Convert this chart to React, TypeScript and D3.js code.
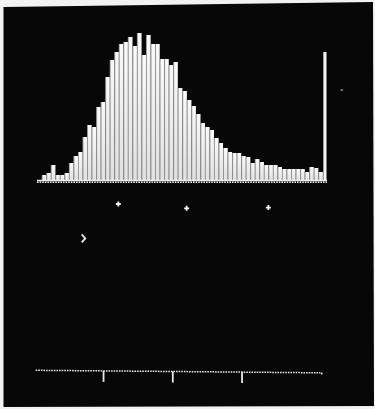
import React from "react";
import * as d3 from "d3";

// Histogram bin counts (63 bins, last one is the overflow bin)
const binCounts: number[] = [
  6, 8, 16, 6, 6, 8, 18, 25, 29, 44,
  56, 54, 74, 79, 104, 121, 129, 137, 139, 144,
  135, 148, 126, 146, 137, 137, 122, 122, 116, 119,
  93, 90, 81, 75, 67, 58, 54, 51, 43, 38,
  33, 29, 28, 28, 25, 24, 18, 22, 19, 16,
  16, 16, 14, 12, 12, 12, 12, 12, 9, 14,
  13, 9, 129,
];
const bins: number[] = binCounts.map((_, i) => i);

// Lower scale ticks
const lowerTicks: number[] = [1, 2, 3];
// Cursor markers on the lower scale (x in scale units, y in field units)
const crossX: number[] = [1.213, 2.2, 3.38];
const crossY: number[] = [0.395, 0.28, 0.3];
const chevronX: number[] = [0.71];
const chevronY: number[] = [-0.51];

const W = 375;
const H = 409;

export default function App() {
  const x = d3
    .scaleBand<number>()
    .domain(bins)
    .range([41.7, 327.3])
    .paddingInner(0);
  const y = d3.scaleLinear().domain([0, 150]).range([181, 31]);

  const x2 = d3.scaleLinear().domain([0, 4]).range([34.3, 311.3]);
  const y2 = d3.scaleLinear().domain([0, 1]).range([219, 181]);

  const step = x.bandwidth();
  const last = bins.length - 1;

  const crossPath = (cx: number, cy: number) =>
    `M${cx - 2.5},${cy}H${cx + 2.5}M${cx},${cy - 2.5}V${cy + 2.5}`;

  return (
    <svg
      width={W}
      height={H}
      style={{ position: "absolute", left: 0, top: 0, display: "block" }}
    >
      <defs>
        <linearGradient id="barg" x1="0" y1="0" x2="0" y2="1">
          <stop offset="0" stopColor="#fafafa" />
          <stop offset="1" stopColor="#e0e0e0" />
        </linearGradient>
      </defs>
      <rect x={0} y={0} width={W} height={H} fill="#f2f2f2" />
      <polygon points="3.5,7 373,2 374,406 3.5,407" fill="#070707" />

      {/* histogram bars */}
      <g>
        {binCounts.map((v, i) => {
          const bx = x(i) as number;
          const top = y(v);
          const h = y(0) - top;
          if (i === last) {
            return (
              <rect key={i} x={bx + 0.6} y={top} width={step - 1.4} height={h} fill="#f4f4f4" />
            );
          }
          return (
            <g key={i}>
              <rect x={bx} y={top} width={step} height={h} fill="#9a9a9a" />
              <rect x={bx + 1} y={top} width={step - 1} height={h} fill="url(#barg)" />
            </g>
          );
        })}
      </g>

      {/* baseline */}
      <line x1={37} x2={327} y1={y(0) - 0.5} y2={y(0) - 0.5} stroke="#f0f0f0" strokeWidth={1.4} />
      <line
        x1={37}
        x2={327}
        y1={y(0) + 1.3}
        y2={y(0) + 1.3}
        stroke="#e8e8e8"
        strokeWidth={1.4}
        strokeDasharray="1.6,1"
      />

      {/* cursor markers */}
      {crossX.map((cx, i) => (
        <path
          key={i}
          d={crossPath(x2(cx), y2(crossY[i]))}
          stroke="#f4f4f4"
          strokeWidth={1.8}
          fill="none"
        />
      ))}
      {chevronX.map((cx, i) => {
        const px = x2(cx);
        const py = y2(chevronY[i]);
        return (
          <path
            key={i}
            d={`M${px - 1.8},${py - 4}L${px + 1.8},${py}L${px - 1.8},${py + 4}`}
            stroke="#e8e8e8"
            strokeWidth={1.8}
            fill="none"
          />
        );
      })}
      <rect x={340.5} y={89.3} width={2.6} height={1.6} fill="#888" />

      {/* lower scale */}
      <line
        x1={x2(0.02)}
        y1={370.3}
        x2={x2(4.13)}
        y2={372.8}
        stroke="#e8e8e8"
        strokeWidth={1.5}
        strokeDasharray="1.6,1"
      />
      <circle cx={x2(4.15)} cy={373.4} r={1} fill="#e8e8e8" />
      {lowerTicks.map((t) => {
        const tx = x2(t);
        const ty = 370.3 + ((tx - x2(0.02)) / (x2(4.13) - x2(0.02))) * 2.5;
        return (
          <line key={t} x1={tx} x2={tx} y1={ty} y2={ty + 11} stroke="#e8e8e8" strokeWidth={1.8} />
        );
      })}
    </svg>
  );
}
